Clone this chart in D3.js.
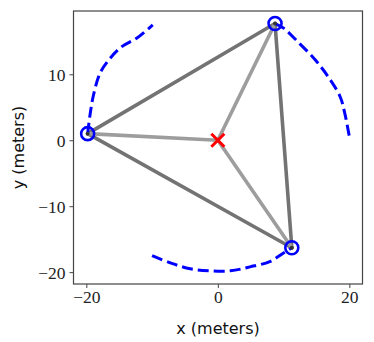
<!DOCTYPE html>
<html>
<head>
<meta charset="utf-8">
<style>
  body { margin: 0; background: #fff; }
  svg { display: block; }
  .lab { font-family: "DejaVu Sans", "Open Sans", sans-serif; font-size: 16px; fill: #111; }
</style>
</head>
<body>
<script src="https://cdnjs.cloudflare.com/ajax/libs/d3/7.8.5/d3.min.js"></script>
<script>
// anchors (meters)
const nodes = [[-19.8, 1.0], [8.7, 17.7], [11.25, -16.3]];
const target = [0, 0];

// trajectories
const pathLeft = [[-19.8, 1.0], [-19.4, 4.1], [-18.9, 6.9], [-17.9, 10.2], [-16.4, 12.4],
  [-14.6, 14.2], [-12.3, 15.5], [-9.9, 17.5]];
const pathRight = [[8.7, 17.7], [10.0, 17.0], [12.2, 14.9], [14.8, 12.2], [16.8, 9.6],
  [18.6, 6.6], [19.3, 4.1], [20.1, 0.0]];
const pathBottom = [[-10.0, -17.5], [-7.2, -18.6], [-4.2, -19.5], [-1.2, -19.8], [1.9, -19.8],
  [4.9, -19.2], [7.9, -18.4], [10.0, -17.1], [11.25, -16.3]];

const xTicks = [-20, 0, 20];
const yTicks = [-20, -10, 0, 10];

const W = 374, H = 342;
const m = {left: 73.5, right: 11.5, top: 11, bottom: 58};
const tickFont = "'Liberation Serif', 'DejaVu Serif', serif";

const svg = d3.select("body").append("svg").attr("width", W).attr("height", H);

const x = d3.scaleLinear().domain([-21.95, 22.0]).range([m.left, W - m.right]);
const y = d3.scaleLinear().domain([-21.8, 19.6]).range([H - m.bottom, m.top]);

const fmt = d => (d < 0 ? "\u2212" + Math.abs(d) : "" + d);

// edges of the triangle
const g = svg.append("g");
for (let i = 0; i < nodes.length; i++) {
  const a = nodes[i], b = nodes[(i + 1) % nodes.length];
  g.append("line")
    .attr("x1", x(a[0])).attr("y1", y(a[1]))
    .attr("x2", x(b[0])).attr("y2", y(b[1]))
    .attr("stroke", "#737373").attr("stroke-width", 3.6).attr("stroke-linecap", "round");
}
// spokes to target
nodes.forEach(a => {
  g.append("line")
    .attr("x1", x(target[0])).attr("y1", y(target[1]))
    .attr("x2", x(a[0])).attr("y2", y(a[1]))
    .attr("stroke", "#9d9d9d").attr("stroke-width", 3.6).attr("stroke-linecap", "round");
});

// blue dashed trajectories
const line = d3.line().x(d => x(d[0])).y(d => y(d[1])).curve(d3.curveCatmullRom);
[pathLeft, pathRight, pathBottom].forEach(p => {
  g.append("path").attr("d", line(p))
    .attr("fill", "none").attr("stroke", "#0000ff").attr("stroke-width", 3)
    .attr("stroke-dasharray", "11,5");
});

// anchor dots + open circles
nodes.forEach(a => {
  g.append("circle").attr("cx", x(a[0])).attr("cy", y(a[1])).attr("r", 2)
    .attr("fill", "#333");
  g.append("circle").attr("cx", x(a[0])).attr("cy", y(a[1])).attr("r", 6.5)
    .attr("fill", "none").attr("stroke", "#0000ff").attr("stroke-width", 2.6);
});

// red cross at target
const cx = x(target[0]), cy = y(target[1]), s = 6.5;
g.append("path")
  .attr("d", `M${cx - s},${cy - s}L${cx + s},${cy + s}M${cx - s},${cy + s}L${cx + s},${cy - s}`)
  .attr("stroke", "#ff0000").attr("stroke-width", 3).attr("fill", "none");

// frame
svg.append("rect")
  .attr("x", m.left).attr("y", m.top)
  .attr("width", W - m.right - m.left).attr("height", H - m.bottom - m.top)
  .attr("fill", "none").attr("stroke", "#444").attr("stroke-width", 1.2);

// axes
svg.append("g").attr("transform", `translate(0,${H - m.bottom})`)
  .call(d3.axisBottom(x).tickValues(xTicks).tickFormat(fmt).tickSize(4).tickPadding(3))
  .call(a => a.select(".domain").remove())
  .call(a => a.selectAll("line").attr("stroke", "#444"))
  .call(a => a.selectAll("text").style("font-family", tickFont).style("font-size", "17.5px").attr("fill", "#222"));
svg.append("g").attr("transform", `translate(${m.left},0)`)
  .call(d3.axisLeft(y).tickValues(yTicks).tickFormat(fmt).tickSize(4).tickPadding(4))
  .call(a => a.select(".domain").remove())
  .call(a => a.selectAll("line").attr("stroke", "#444"))
  .call(a => a.selectAll("text").attr("dy", "0.34em")
    .style("font-family", tickFont).style("font-size", "17.5px").attr("fill", "#222"));

svg.append("text").attr("class", "lab")
  .attr("x", (m.left + W - m.right) / 2).attr("y", 334)
  .attr("text-anchor", "middle").text("x (meters)");
svg.append("text").attr("class", "lab")
  .attr("transform", `translate(24,${(m.top + H - m.bottom) / 2}) rotate(-90)`)
  .attr("text-anchor", "middle").text("y (meters)");
</script>
</body>
</html>
